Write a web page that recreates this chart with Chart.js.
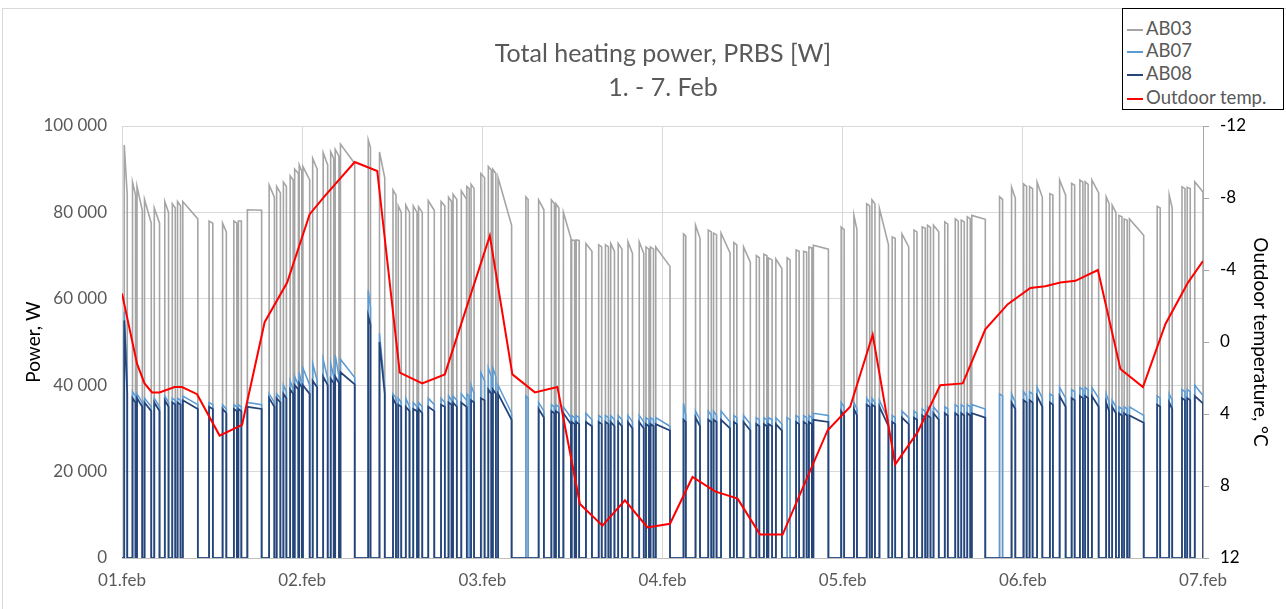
<!DOCTYPE html>
<html>
<head>
<meta charset="utf-8">
<script src="https://cdn.jsdelivr.net/npm/chart.js@4.4.1/dist/chart.umd.min.js"></script>
<style>
  html, body { margin: 0; padding: 0; background: #fff; }
  #wrap { position: relative; width: 1286px; height: 609px; overflow: hidden; font-family: Lato, sans-serif; }
  #frame { position: absolute; left: 2px; top: 8px; width: 1400px; height: 800px; border: 1px solid #D9D9D9; }
  #title { position: absolute; left: 20px; width: 1286px; top: 35px; text-align: center; color: #595959; font-size: 25px; line-height: 34px; }
  #legend { position: absolute; left: 1122px; top: 8px; width: 160px; height: 100px; border: 1px solid #000; background: #fff; }
  #legend .item { position: absolute; left: 4px; height: 22px; line-height: 22px; font-size: 18.5px; color: #595959; white-space: nowrap; }
  #legend .sw { display: inline-block; width: 16px; height: 2px; vertical-align: middle; margin-right: 3px; }
  canvas { position: absolute; left: 0; top: 0; }
</style>
</head>
<body>
<div id="wrap">
  <div id="frame"></div>
  <canvas id="heatChart" width="1286" height="609"></canvas>
  <div id="title">Total heating power, PRBS [W]<br>1. - 7. Feb</div>
  <div id="legend">
    <div class="item" style="top:8px"><span class="sw" style="background:#A5A5A5"></span>AB03</div>
    <div class="item" style="top:30px"><span class="sw" style="background:#5B9BD5"></span>AB07</div>
    <div class="item" style="top:53px"><span class="sw" style="background:#264478"></span>AB08</div>
    <div class="item" style="top:77px"><span class="sw" style="background:#FF0000"></span>Outdoor temp.</div>
  </div>
</div>
<script>
// x axis in hours from 01.feb 00:00
var dayLabels = ['01.feb', '02.feb', '03.feb', '04.feb', '05.feb', '06.feb', '07.feb'];

// PRBS on-periods (hours)
var pulseStart = [
  0.3, 1.4, 2.0, 3.0, 4.3, 5.7, 6.7, 7.4, 8.1, 11.6, 13.4, 14.9, 15.5, 16.7, 19.6, 20.6, 21.5, 22.4, 23.0, 23.6,
  24.1, 25.4, 26.8, 27.8, 28.4, 29.1, 32.8, 34.3, 36.1, 36.8, 37.8, 38.8, 39.5, 40.8, 42.5, 43.5, 44.1, 45.2, 45.95, 46.5,
  47.8, 48.8, 49.4, 50.1, 53.8, 55.5, 57.2, 57.8, 58.8, 59.9, 60.5, 61.8, 63.5, 64.4, 65.1, 66.1, 67.4, 68.9, 69.8, 70.4, 71.1,
  74.8, 76.4, 78.1, 78.8, 79.8, 81.5, 82.8, 84.5, 85.5, 86.1, 87.1, 88.6, 89.8, 90.8, 91.5, 92.1,
  95.8, 97.5, 99.2, 99.9, 100.9, 102.6, 103.9, 105.5, 106.6, 107.3, 108.1, 109.6, 111.0, 111.8, 112.6, 113.2, 116.9, 118.5, 120.1,
  120.9, 121.9, 123.6, 124.9, 126.5, 127.6, 128.3, 129.2, 131.1, 131.9, 132.8, 133.5, 134.2, 137.9, 139.5, 141.2, 141.9, 142.9
];
var pulseEnd = [
  0.7, 1.8, 2.7, 3.9, 5.0, 6.2, 7.1, 7.8, 10.1, 12.1, 13.9, 15.3, 15.9, 18.6, 20.3, 21.1, 21.9, 22.8, 23.5, 23.95,
  25.0, 26.0, 27.4, 28.2, 28.9, 31.0, 33.1, 35.0, 36.5, 37.2, 38.3, 39.3, 40.0, 41.6, 43.0, 43.9, 44.6, 45.9, 46.25, 46.9,
  48.3, 49.2, 49.8, 51.9, 54.1, 56.2, 57.6, 58.2, 59.8, 60.3, 60.9, 62.6, 63.9, 64.8, 65.6, 66.6, 68.0, 69.5, 70.2, 70.8, 73.0,
  75.1, 77.0, 78.5, 79.2, 81.0, 81.9, 83.7, 84.9, 85.9, 86.6, 87.9, 89.0, 90.2, 91.2, 91.9, 94.1,
  96.2, 97.9, 99.6, 100.3, 102.1, 103.0, 104.8, 105.9, 107.0, 107.7, 108.8, 110.0, 111.4, 112.2, 113.0, 115.0, 117.3, 119.0, 120.5,
  121.3, 122.6, 124.0, 125.7, 126.9, 128.0, 128.7, 130.1, 131.5, 132.4, 133.2, 133.9, 136.1, 138.3, 139.9, 141.6, 142.3, 144.0
];

// power at start / end of each on-period, kW (0 = that building off)
var ab03Peak = [
  95.6, 87, 86, 83, 81, 82.5, 82, 82.5, 82.5, 78, 77.5, 78, 78, 80.6, 86.3, 86, 87, 88.5, 90, 91,
  90.6, 92.5, 93.8, 94, 94.6, 95.8, 96.8, 94, 85.2, 81.5, 81.7, 81.5, 81.3, 82.7, 82.5, 83.5, 84.2, 85, 86, 86.5,
  89, 90.6, 90, 88, 83.6, 82.9, 82.9, 82, 80, 73.6, 73.6, 72.8, 72.5, 72.5, 72.8, 72.8, 73.2, 73.2, 72, 72, 72,
  75, 77, 75.9, 75.2, 75.2, 73, 72, 70, 70.3, 69.5, 69.2, 69.5, 71.3, 71, 72, 72.4,
  76.6, 79.3, 82, 82.9, 80.9, 74.3, 75, 75.9, 76.6, 77, 77, 77.8, 78.5, 78.2, 79, 79.3, 83.6, 85.8, 86.6,
  86, 87, 84.3, 87.5, 86.7, 87.5, 87.1, 87.5, 83.6, 81.7, 79.3, 78.5, 78.5, 81.4, 84, 85.9, 85.8, 87.1
];
var ab03End = [
  84, 84, 80.5, 77.5, 77.5, 80, 81, 81.5, 78.5, 77.5, 75.5, 77.5, 78, 80.5, 83.5, 84.5, 86, 87.5, 89, 89.5,
  87.5, 90, 91, 92.5, 93, 91.3, 95, 88, 84, 80, 80, 80, 80, 80.5, 81.5, 82.5, 83, 83, 85.5, 85.5,
  88, 89.8, 89, 77, 83, 80.6, 82, 81, 74, 73.5, 73.5, 71, 72, 72, 71, 71.5, 70.5, 70.5, 71.5, 71.5, 67.5,
  74.5, 74, 75.5, 74.8, 70.6, 72.5, 68.5, 69.5, 70, 69, 67, 69, 71, 70.8, 71.8, 71.5,
  76, 76, 81.5, 82, 72.5, 74, 72, 75.5, 76.3, 76.5, 75.5, 77.3, 78, 77.8, 78.5, 78.4, 83, 83.3, 86,
  85.5, 83.5, 84, 84, 86.3, 87, 86.5, 84.5, 82, 80, 79, 78.2, 74.7, 81, 81, 85.5, 85.5, 84.7
];
var ab07Peak = [
  57, 38.5, 38, 37, 37, 37.5, 37, 37, 37.5, 36, 35.5, 35.5, 35.5, 36, 38, 38, 40, 41, 42, 43,
  44, 45, 46, 45, 47, 46, 62, 52, 38, 37, 37, 36, 36, 37, 37, 37.5, 37.5, 38, 38, 40,
  43, 44, 44, 40, 37.5, 36, 35.5, 35.5, 35, 33, 33, 33.5, 33, 33, 33, 33, 33, 33, 32.5, 32.5, 32.5,
  35.8, 34, 34, 34, 34, 33, 33, 32.5, 32.5, 32.5, 32.5, 32.5, 33, 33, 33, 33.5,
  36, 36, 37, 37, 36.5, 33, 34, 34, 34.5, 35, 35, 35, 35.5, 35.5, 35.5, 35.5, 38, 38, 38.5,
  38.5, 39.5, 38, 39.5, 39, 39.5, 39.5, 39.5, 38, 36.5, 35, 35, 35, 37.5, 38, 39, 39, 40
];
var ab07End = [
  42, 37.5, 36, 35, 35, 36, 36.5, 36.5, 35.5, 35.5, 34.5, 35, 35, 35.5, 36, 37, 38.5, 39, 40, 40,
  40, 41, 41.5, 42, 42, 41.8, 58, 39.5, 37, 36, 35, 35, 35, 35.5, 36, 36.5, 36.5, 36.5, 37.5, 38,
  41, 42, 42, 33.5, 37, 34, 35, 35, 32.5, 32.5, 32.5, 32, 32.5, 32.5, 32, 32, 31.5, 31.5, 32, 32, 30.5,
  33, 32, 33, 33, 31.5, 32.5, 31, 32, 32, 32, 31, 32, 32.5, 32.5, 32.5, 33,
  35, 34.5, 36, 36, 32, 32.5, 32.5, 33.5, 34, 34.5, 33.5, 34.5, 35, 35, 35, 34.5, 37.5, 36, 37.5,
  38, 37, 37.5, 37, 38.5, 39, 39, 37, 36, 35, 34.5, 34.5, 33, 37, 36.5, 38.5, 38.5, 37.6
];
var ab08Peak = [
  55, 37, 37, 36, 36, 36.5, 36, 36, 36.5, 35, 34.5, 34.5, 34.5, 35, 37, 37, 38, 39, 40, 40.5,
  40, 41, 42, 41.5, 42, 43, 56, 50, 37, 35.5, 35, 34.5, 34.5, 35, 35.5, 36, 36, 36, 0, 36.5,
  37, 39, 39, 38, 0, 34.5, 34, 34, 33.5, 31.5, 31.5, 31.5, 31.5, 31.5, 31.5, 31.5, 31.5, 31.5, 31, 31, 31,
  32, 32.5, 32, 32, 32, 31.5, 31.5, 31, 31, 31, 31, 0, 31.5, 31.5, 31.5, 32,
  34, 34.5, 35.5, 35.5, 35, 31.5, 32.5, 32.5, 33, 33, 33.5, 33.5, 33.5, 33.5, 33.5, 33.5, 0, 36, 36.5,
  36.5, 37.5, 36, 37.5, 37, 37.5, 37.5, 37.5, 36, 35, 33.5, 33.5, 33, 35.5, 36, 37, 37, 37.5
];
var ab08End = [
  38, 36, 35, 34, 34, 35, 35.5, 35.5, 34.5, 34.5, 33.5, 34, 34, 34.5, 35, 36, 37, 38, 39, 39.5,
  38, 39.5, 40, 40.5, 40.5, 40.2, 54, 38, 35.5, 35, 34, 34, 33.5, 34, 35, 35.5, 35, 35, 0, 36,
  36.5, 38, 38, 32, 0, 32.5, 33.5, 33.5, 31, 31, 31, 30.5, 31, 31, 30.5, 30.5, 30, 30, 30.5, 30.5, 29.5,
  31.5, 30.5, 31.5, 31.5, 30, 31, 29.5, 30.5, 30.5, 30.5, 29.5, 0, 31, 31, 31, 31.5,
  33, 33, 35, 35, 30.5, 31, 31, 32, 32.5, 32.5, 32, 33, 33, 33, 33, 32.5, 0, 34.5, 36,
  36, 35, 35.5, 35, 36.5, 37, 37, 35, 34, 33.5, 33, 33, 31.3, 35, 34.5, 36.5, 36.5, 35.8
];

// outdoor temperature, °C
var tempHours = [0, 2, 3, 4, 5, 7, 8, 10, 13, 16, 19, 22, 25, 27, 31, 34, 37, 40, 43, 49, 52, 55, 58, 61, 64, 67, 70, 73,
  76, 79, 82, 85, 88, 94, 97, 100, 103, 106, 109, 112, 115, 118, 121, 123, 125, 127, 130, 133, 136, 139, 142, 144];
var tempValues = [-2.7, 1.2, 2.3, 2.8, 2.8, 2.5, 2.5, 2.9, 5.2, 4.6, -1.1, -3.3, -7.1, -8.1, -10.0, -9.5, 1.7, 2.3, 1.8, -5.9,
  1.8, 2.8, 2.5, 9.0, 10.2, 8.8, 10.3, 10.1, 7.5, 8.3, 8.7, 10.7, 10.7, 4.9, 3.6, -0.4, 6.8, 5.0, 2.4, 2.3, -0.7, -2.1,
  -3.0, -3.1, -3.3, -3.4, -4.0, 1.5, 2.5, -1.0, -3.3, -4.5];

function pulsePoints(peak, last) {
    var pts = [{x: 0, y: 0}];
    for (var i = 0; i < pulseStart.length; i++) {
        pts.push({x: pulseStart[i], y: 0});
        pts.push({x: pulseStart[i], y: peak[i] * 1000});
        pts.push({x: pulseEnd[i], y: last[i] * 1000});
        pts.push({x: pulseEnd[i], y: 0});
    }
    pts.push({x: 144, y: 0});
    return pts;
}

var tempPoints = tempHours.map(function (h, i) { return {x: h, y: tempValues[i]}; });

var ctx = document.getElementById('heatChart').getContext('2d');
var heatChart = new Chart(ctx, {
    type: 'line',
    data: {
        datasets: [{
            label: 'AB03',
            data: pulsePoints(ab03Peak, ab03End),
            borderColor: '#A5A5A5',
            borderWidth: 1.6,
            yAxisID: 'y',
            order: 3
        }, {
            label: 'AB07',
            data: pulsePoints(ab07Peak, ab07End),
            borderColor: '#5B9BD5',
            borderWidth: 1.5,
            yAxisID: 'y',
            order: 2
        }, {
            label: 'AB08',
            data: pulsePoints(ab08Peak, ab08End),
            borderColor: '#264478',
            borderWidth: 1.75,
            yAxisID: 'y',
            order: 1
        }, {
            label: 'Outdoor temp.',
            data: tempPoints,
            borderColor: '#FF0000',
            borderWidth: 2,
            yAxisID: 'y2',
            order: 0
        }]
    },
    options: {
        responsive: false,
        animation: false,
        devicePixelRatio: 1,
        layout: { padding: { top: 126, left: 0, right: 0, bottom: 0 } },
        elements: {
            point: { radius: 0 },
            line: { tension: 0, fill: false }
        },
        scales: {
            x: {
                type: 'linear',
                min: 0,
                max: 144,
                afterFit: function (s) { s.height = 51; },
                afterBuildTicks: function (s) {
                    s.ticks = dayLabels.map(function (d, i) { return {value: i * 24}; });
                },
                ticks: {
                    padding: 12,
                    color: '#595959',
                    font: { family: 'Lato', size: 17 },
                    maxRotation: 0,
                    callback: function (v) { return dayLabels[Math.round(v / 24)]; }
                },
                grid: { color: '#D9D9D9', drawTicks: false },
                border: { display: true, color: '#BFBFBF' }
            },
            y: {
                position: 'left',
                min: 0,
                max: 100000,
                afterFit: function (s) { s.width = 122; },
                ticks: {
                    stepSize: 20000,
                    padding: 15,
                    color: '#595959',
                    font: { family: 'Lato', size: 17 },
                    callback: function (v) { return String(v).replace(/\B(?=(\d{3})+(?!\d))/g, ' '); }
                },
                grid: { color: '#D9D9D9', drawTicks: false },
                border: { display: false },
                title: {
                    display: true,
                    text: 'Power, W',
                    color: '#000',
                    font: { family: 'Lato', size: 19 },
                    padding: { top: 22, bottom: 0 }
                }
            },
            y2: {
                position: 'right',
                reverse: true,
                min: -12,
                max: 12,
                afterFit: function (s) { s.width = 83; },
                ticks: {
                    stepSize: 4,
                    padding: 11,
                    color: '#000',
                    font: { family: 'Lato', size: 17 }
                },
                grid: { drawOnChartArea: false, drawTicks: true, tickLength: 6, color: '#A6A6A6' },
                border: { display: true, color: '#A6A6A6' },
                title: {
                    display: true,
                    text: 'Outdoor temperature, °C',
                    color: '#000',
                    font: { family: 'Lato', size: 19 },
                    padding: { top: 14, bottom: 0 }
                }
            }
        },
        plugins: {
            legend: { display: false },
            title: { display: false },
            tooltip: { enabled: false }
        }
    }
});
</script>
</body>
</html>
